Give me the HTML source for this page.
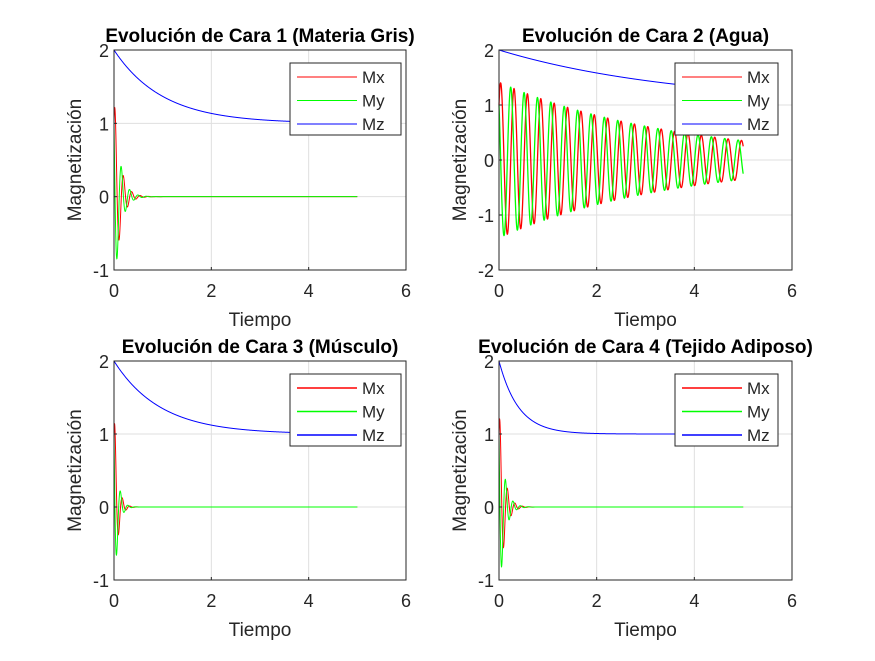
<!DOCTYPE html>
<html><head><meta charset="utf-8"><style>
html,body{margin:0;padding:0;background:#fff;}
svg text{font-family:"Liberation Sans",Arial,sans-serif;fill:#262626;}
</style></head><body>
<svg id="fig" width="875" height="656" xmlns="http://www.w3.org/2000/svg"></svg>
<script>
// Data (relaxation parameters per face)
const titles = ["Evolución de Cara 1 (Materia Gris)","Evolución de Cara 2 (Agua)","Evolución de Cara 3 (Músculo)","Evolución de Cara 4 (Tejido Adiposo)"];
const T1 = [1.0, 3.7, 0.95, 0.4];
const T2 = [0.12, 3.6, 0.07, 0.1];
const freq = [5.8, 3.65, 6.5, 6.5];
const yMin = [-1, -2, -1, -1];
const yMax = [2, 2, 2, 2];
const yTicks = [[-1,0,1,2],[-2,-1,0,1,2],[-1,0,1,2],[-1,0,1,2]];
const xTicks = [0,2,4,6];
const legendLabels = ["Mx","My","Mz"];
const seriesColors = ["#ff0000","#00ff00","#0000ff"];
const tEnd = 5;

const NS="http://www.w3.org/2000/svg";
const svg=document.getElementById('fig');
function mk(tag,attrs,parent){const e=document.createElementNS(NS,tag);for(const k in attrs)e.setAttribute(k,attrs[k]);(parent||svg).appendChild(e);return e;}
const boxes=[[114,50,406,270],[499,50,792,270],[114,361,406,580],[499,361,792,580]];

for(let p=0;p<4;p++){
  const [L,T,R,B]=boxes[p];
  const g=mk('g',{});
  
  
  const xs=v=>L+(v-0)/(6-0)*(R-L);
  const ys=v=>B-(v-yMin[p])/(yMax[p]-yMin[p])*(B-T);
  xTicks.forEach(v=>{const l=mk('line',{x1:xs(v),x2:xs(v),y1:T,y2:B,stroke:'#dfdfdf','stroke-width':1},g);});
  yTicks[p].forEach(v=>{const l=mk('line',{x1:L,x2:R,y1:ys(v),y2:ys(v),stroke:'#dfdfdf','stroke-width':1},g);});
  const N=2500;const px=[],py=[],pz=[];
  for(let i=0;i<=N;i++){
    const t=i/N*tEnd;const e=Math.exp(-t/T2[p]);const w=2*Math.PI*freq[p]*t;
    const mx=e*(Math.cos(w)+Math.sin(w)), my=e*(Math.cos(w)-Math.sin(w)), mz=1+Math.exp(-t/T1[p]);
    px.push(xs(t).toFixed(2)+','+ys(mx).toFixed(2));
    py.push(xs(t).toFixed(2)+','+ys(my).toFixed(2));
    pz.push(xs(t).toFixed(2)+','+ys(mz).toFixed(2));
  }
  [px,py,pz].forEach((pts,k)=>{
    const pl=mk('polyline',{points:pts.join(' '),fill:'none',stroke:seriesColors[k],'stroke-width':(p===1&&k<2)?1.3:1},g);
    
    
  });
  const bx=mk('rect',{x:L,y:T,width:R-L,height:B-T,fill:'none',stroke:'#262626','stroke-width':1},g);
  
  xTicks.forEach(v=>{
    mk('line',{x1:xs(v),x2:xs(v),y1:B,y2:B-3,stroke:'#262626'},g);
    const t=mk('text',{x:xs(v),y:B+27,'text-anchor':'middle','font-size':18},g);t.textContent=v;
    
  });
  yTicks[p].forEach(v=>{
    mk('line',{x1:L,x2:L+3,y1:ys(v),y2:ys(v),stroke:'#262626'},g);
    const t=mk('text',{x:L-5,y:ys(v)+7,'text-anchor':'end','font-size':18},g);t.textContent=v;
    
  });
  const xl=mk('text',{x:(L+R)/2,y:B+56,'text-anchor':'middle','font-size':19},g);xl.textContent='Tiempo';
  
  const yl=mk('text',{x:0,y:0,'text-anchor':'middle','font-size':19,transform:`translate(${L-33},${(T+B)/2}) rotate(-90)`},g);yl.textContent='Magnetización';
  
  const tt=mk('text',{x:(L+R)/2,y:T-8,'text-anchor':'middle','font-size':19,'font-weight':'bold'},g);tt.textContent=titles[p];
  tt.style.fill='#000';
  
  const lx = p%2===0 ? 290 : 675, lw = p%2===0 ? 111 : 103, ly=T+13;
  const lg=mk('g',{},g);
  mk('rect',{x:lx,y:ly,width:lw,height:72,fill:'#fff',stroke:'#262626','stroke-width':1},lg);
  legendLabels.forEach((lab,k)=>{
    const yy=ly+14+k*23.5;
    const e=mk('g',{},lg);
    mk('line',{x1:lx+7,x2:lx+67,y1:yy,y2:yy,stroke:seriesColors[k],'stroke-width':p<2?1:1.5},e);
    const t=mk('text',{x:lx+72,y:yy+6,'font-size':17},e);t.textContent=lab;
  });
}
</script>
</body></html>
